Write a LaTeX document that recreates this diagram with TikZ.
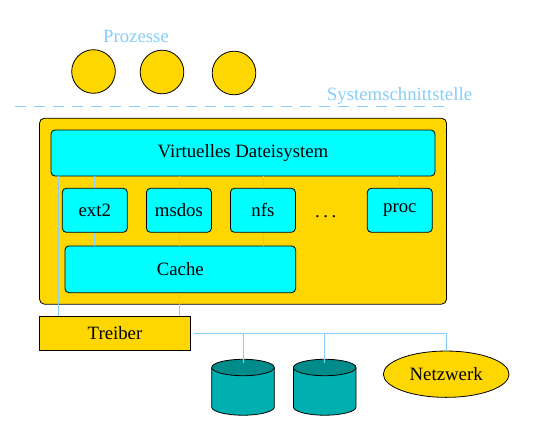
\documentclass[tikz,border=0pt]{standalone}
\usepackage{fontspec}
\setmainfont{Liberation Serif}
\usetikzlibrary{positioning, shapes.geometric}
\definecolor{FigGold}{RGB}{255, 215, 0}
\definecolor{FigCyan}{RGB}{0, 255, 255}
\definecolor{FigSky}{RGB}{135, 206, 250}
\definecolor{FigTeal}{RGB}{0, 176, 176}
\definecolor{FigTealTop}{RGB}{0, 139, 139}
\begin{document}
\begin{tikzpicture}[
          x=1pt, y=-1pt,
          every node/.style={font=\fontsize{18.8}{22}\selectfont, inner sep=0pt},
          outline/.style={draw=black, line width=0.8pt},
          frame/.style={outline, rounded corners=5pt, fill=FigGold,
            minimum width=407pt, minimum height=186pt},
          fsbox/.style={outline, rounded corners=4pt, fill=FigCyan,
            minimum width=65pt, minimum height=44pt},
          process/.style={outline, circle, fill=FigGold, minimum size=43.6pt},
          label/.style={text=FigSky},
          link/.style={draw=FigSky, line width=0.8pt}
        ]
        \useasboundingbox (0,0) rectangle (546,431);
        % processes above the interface
        \node[label] (prozesse) at (136,36) {Prozesse};
        \foreach \px/\py [count=\i] in {93.5/71.5, 162/72, 234/73}
          \node[process] (proc\i) at (\px,\py) {};
        \node[label] (schnitt) at (399.5,96) {Systemschnittstelle};
        \draw[link, dash pattern=on 11pt off 8pt] (15,106.7) -- (450,106.7);
        % kernel
        \node[frame] (kernel) at (243,211.2) {};
        \node[fsbox, minimum width=384pt, minimum height=46pt] (vds) at (243,153) {Virtuelles Dateisystem};
        \node[fsbox] (ext2) at (94.8,210.3) {ext2};
        \node[fsbox] (msdos) at (178.9,210.3) {msdos};
        \node[fsbox] (nfs) at (262.9,210.3) {nfs};
        \node[anchor=base] (more) at (325.7,217) {.\hspace{3.5pt}.\hspace{3.5pt}.};
        \node[fsbox] (procfs) at (399.8,210.3) {proc};
        \node[fsbox, minimum width=230.7pt, minimum height=46.7pt] (cache) at (180.3,269.3) {Cache};
        \draw[link] (vds.south -| ext2) -- (ext2.north);
        \draw[link] (vds.south -| msdos) -- (msdos.north);
        \draw[link] (vds.south -| nfs) -- (nfs.north);
        \draw[link] (vds.south -| procfs) -- (procfs.north);
        \draw[link] (ext2.south) -- (ext2.south |- cache.north);
        \draw[link] (msdos.south) -- (msdos.south |- cache.north);
        \draw[link] (nfs.south) -- (nfs.south |- cache.north);
        % driver and devices
        \node[outline, fill=FigGold, minimum width=151.4pt, minimum height=34pt] (treiber) at (115,333.3) {Treiber};
        \draw[link] ([xshift=8pt]vds.south west) -- ([xshift=8pt]vds.south west |- treiber.north);
        \draw[link] (cache.south -| msdos) -- (msdos |- treiber.north);
        \foreach \dx [count=\i] in {243, 324.7} {
          \path[outline, fill=FigTeal] (\dx-31.3,367.5) -- (\dx-31.3,407)
            arc[start angle=180, end angle=0, x radius=31.3, y radius=8.2]
            -- (\dx+31.3,367.5);
          \draw[outline, fill=FigTealTop] (\dx,367.5) ellipse[x radius=31.3, y radius=8.2];
          \coordinate (disk\i) at (\dx,362.5);
        }
        \node[outline, ellipse, fill=FigGold, minimum width=125.7pt, minimum height=46.3pt] (netz) at (446.2,374.2) {Netzwerk};
        \draw[link] ([xshift=3pt]treiber.east) -| (netz.north);
        \draw[link] (disk1 |- treiber.east) -- (disk1);
        \draw[link] (disk2 |- treiber.east) -- (disk2);
      \end{tikzpicture}
\end{document}
